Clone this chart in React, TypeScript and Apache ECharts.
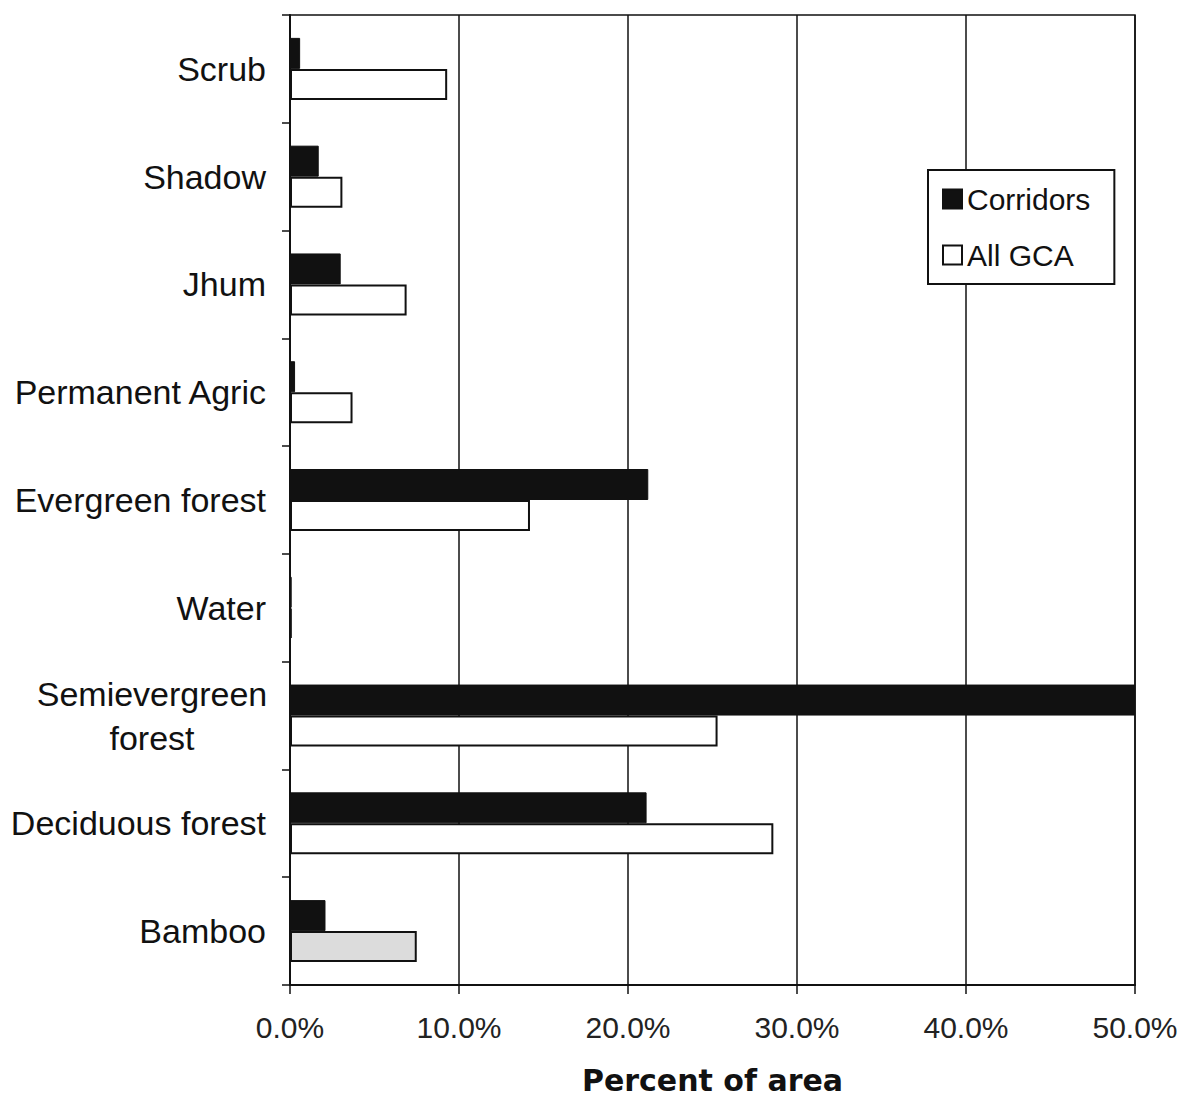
import React, { useEffect, useRef } from "react";
import * as echarts from "echarts";

const categories = [
  "Scrub",
  "Shadow",
  "Jhum",
  "Permanent Agric",
  "Evergreen forest",
  "Water",
  "Semievergreen\nforest",
  "Deciduous forest",
  "Bamboo",
];
const corridors = [0.6, 1.7, 3.0, 0.3, 21.2, 0.1, 50.0, 21.1, 2.1];
const allGCA = [9.3, 3.1, 6.9, 3.7, 14.2, 0.1, 25.3, 28.6, 7.5];
const xTicks = [0, 10, 20, 30, 40, 50];

export default function App() {
  const ref = useRef<HTMLDivElement>(null);
  useEffect(() => {
    if (!ref.current) return;
    const chart = echarts.init(ref.current, null, { renderer: "svg" });
    const font = "Liberation Sans, Arial, sans-serif";
    chart.setOption({
      animation: false,
      backgroundColor: "#fff",
      textStyle: { fontFamily: font, color: "#111" },
      grid: {
        left: 290,
        right: 55,
        top: 15,
        bottom: 117,
        outerBoundsMode: "none",
        containLabel: false,
        show: true,
        borderColor: "#111",
        borderWidth: 1.5,
      },
      legend: {
        left: 928,
        top: 170,
        orient: "vertical",
        backgroundColor: "#fff",
        borderColor: "#111",
        borderWidth: 2,
        borderRadius: 0,
        padding: [14, 24, 14, 14],
        itemGap: 26,
        itemWidth: 19,
        itemHeight: 19,
        icon: "rect",
        textStyle: { fontSize: 30, fontFamily: font, color: "#111" },
        data: ["Corridors", "All GCA"],
      },
      xAxis: {
        type: "value",
        min: xTicks[0],
        max: xTicks[xTicks.length - 1],
        interval: 10,
        name: "Percent of area",
        nameLocation: "middle",
        nameGap: 80,
        nameTextStyle: {
          fontSize: 30,
          fontWeight: "bold",
          color: "#111",
          fontFamily: "DejaVu Sans, Verdana, sans-serif",
        },
        axisLine: { show: true, lineStyle: { color: "#111", width: 2 } },
        axisTick: { show: true, length: 9, lineStyle: { color: "#111", width: 1.5 } },
        axisLabel: {
          fontSize: 30,
          color: "#222",
          margin: 27,
          formatter: (v: number) => v.toFixed(1) + "%",
        },
        splitLine: { show: true, lineStyle: { color: "#111", width: 1.5 } },
      },
      yAxis: {
        type: "category",
        inverse: true,
        data: categories.map((c) =>
          c.indexOf("\n") >= 0
            ? { value: c, textStyle: { align: "center", padding: [0, 228, 0, 0] } }
            : c
        ),
        axisLine: { show: true, lineStyle: { color: "#111", width: 2 } },
        axisTick: { show: true, length: 8, lineStyle: { color: "#111", width: 1.5 } },
        axisLabel: { fontSize: 34, color: "#111", margin: 24, lineHeight: 44 },
        splitLine: { show: false },
      },
      series: [
        {
          name: "Corridors",
          type: "bar",
          data: corridors,
          barWidth: 31,
          barGap: "0%",
          itemStyle: { color: "#111", borderColor: "#111", borderWidth: 1 },
        },
        {
          name: "All GCA",
          type: "bar",
          data: allGCA.map((v, i) =>
            categories[i] === "Bamboo"
              ? { value: v, itemStyle: { color: "#dcdcdc" } }
              : v
          ),
          barWidth: 31,
          itemStyle: { color: "#fff", borderColor: "#111", borderWidth: 2 },
        },
      ],
    });
    return () => chart.dispose();
  }, []);
  return (
    <div
      ref={ref}
      style={{ position: "fixed", left: 0, top: 0, width: 1190, height: 1102, background: "#fff" }}
    />
  );
}
